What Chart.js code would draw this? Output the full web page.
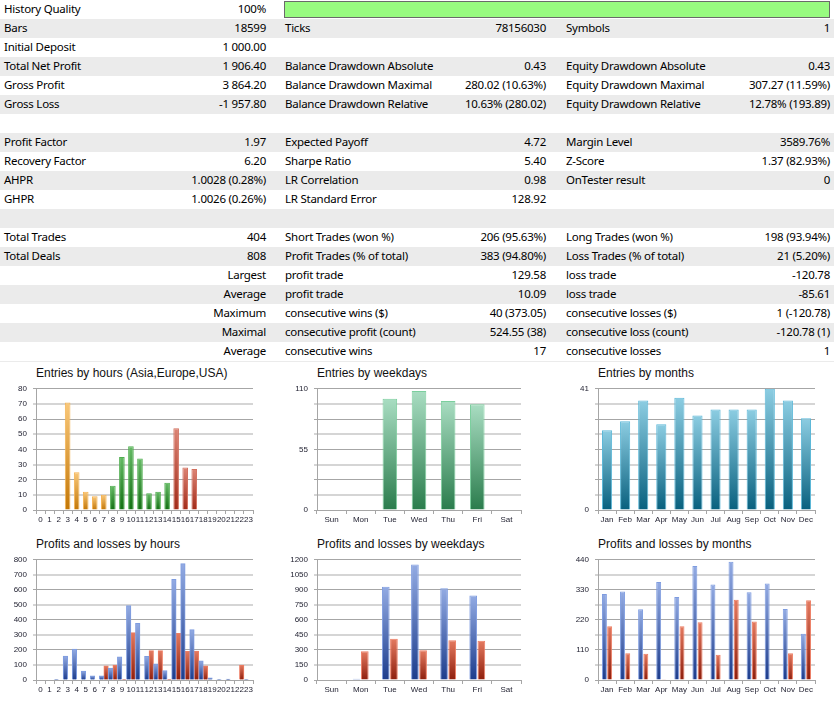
<!DOCTYPE html>
<html>
<head>
<meta charset="utf-8">
<script src="https://cdn.jsdelivr.net/npm/chart.js@4.4.1/dist/chart.umd.min.js"></script>
<style>
  body { margin: 0; background: #fff; width: 834px; height: 704px; overflow: hidden; position: relative; }
  #report { position: absolute; left: 0; top: 0; width: 834px; font: 11.5px "Noto Sans", sans-serif; letter-spacing: -0.25px; color: #000; }
  .row { position: relative; height: 19px; line-height: 18px; }
  .row.alt { background: #ebebeb; }
  .row span { position: absolute; top: 0; white-space: nowrap; }
  .c0 { left: 4px; }
  .c1 { right: 568px; }
  .c2 { left: 285px; }
  .c3 { right: 288px; }
  .c4 { left: 566px; }
  .c5 { right: 4px; }
  .quality { position: absolute; left: 284px; top: 1px; width: 544px; height: 15px; background: #98fb80; border: 1px solid #6a6a6a; }
  .tail { position: absolute; left: 0; top: 361px; width: 834px; height: 1px; background: #ebebeb; }
  .title { position: absolute; font: 12px "Liberation Sans", Arial, sans-serif; color: #111; white-space: nowrap; }
  canvas { position: absolute; }
</style>
</head>
<body>
<div id="report"></div>
<div class="tail"></div>

<div class="title" style="left:36px;top:366px">Entries by hours (Asia,Europe,USA)</div>
<div class="title" style="left:317px;top:366px">Entries by weekdays</div>
<div class="title" style="left:598px;top:366px">Entries by months</div>
<div class="title" style="left:36px;top:537px">Profits and losses by hours</div>
<div class="title" style="left:317px;top:537px">Profits and losses by weekdays</div>
<div class="title" style="left:598px;top:537px">Profits and losses by months</div>

<div style="position:absolute;left:0;top:378px;width:280px;height:156px"><canvas id="hoursEntries"></canvas></div>
<div style="position:absolute;left:280px;top:378px;width:280px;height:156px"><canvas id="daysEntries"></canvas></div>
<div style="position:absolute;left:560px;top:378px;width:274px;height:156px"><canvas id="monthsEntries"></canvas></div>
<div style="position:absolute;left:0;top:549px;width:280px;height:155px"><canvas id="hoursPL"></canvas></div>
<div style="position:absolute;left:280px;top:549px;width:280px;height:155px"><canvas id="daysPL"></canvas></div>
<div style="position:absolute;left:560px;top:549px;width:274px;height:155px"><canvas id="monthsPL"></canvas></div>

<script>
// report rows: label, value, label, value, label, value
var reportRows = [
  ['History Quality', '100%', '', '', '', ''],
  ['Bars', '18599', 'Ticks', '78156030', 'Symbols', '1'],
  ['Initial Deposit', '1 000.00', '', '', '', ''],
  ['Total Net Profit', '1 906.40', 'Balance Drawdown Absolute', '0.43', 'Equity Drawdown Absolute', '0.43'],
  ['Gross Profit', '3 864.20', 'Balance Drawdown Maximal', '280.02 (10.63%)', 'Equity Drawdown Maximal', '307.27 (11.59%)'],
  ['Gross Loss', '-1 957.80', 'Balance Drawdown Relative', '10.63% (280.02)', 'Equity Drawdown Relative', '12.78% (193.89)'],
  ['', '', '', '', '', ''],
  ['Profit Factor', '1.97', 'Expected Payoff', '4.72', 'Margin Level', '3589.76%'],
  ['Recovery Factor', '6.20', 'Sharpe Ratio', '5.40', 'Z-Score', '1.37 (82.93%)'],
  ['AHPR', '1.0028 (0.28%)', 'LR Correlation', '0.98', 'OnTester result', '0'],
  ['GHPR', '1.0026 (0.26%)', 'LR Standard Error', '128.92', '', ''],
  ['', '', '', '', '', ''],
  ['Total Trades', '404', 'Short Trades (won %)', '206 (95.63%)', 'Long Trades (won %)', '198 (93.94%)'],
  ['Total Deals', '808', 'Profit Trades (% of total)', '383 (94.80%)', 'Loss Trades (% of total)', '21 (5.20%)'],
  ['', 'Largest', 'profit trade', '129.58', 'loss trade', '-120.78'],
  ['', 'Average', 'profit trade', '10.09', 'loss trade', '-85.61'],
  ['', 'Maximum', 'consecutive wins ($)', '40 (373.05)', 'consecutive losses ($)', '1 (-120.78)'],
  ['', 'Maximal', 'consecutive profit (count)', '524.55 (38)', 'consecutive loss (count)', '-120.78 (1)'],
  ['', 'Average', 'consecutive wins', '17', 'consecutive losses', '1']
];

var hourLabels = ['0','1','2','3','4','5','6','7','8','9','10','11','12','13','14','15','16','17','18','19','20','21','22','23'];
var dayLabels = ['Sun', 'Mon', 'Tue', 'Wed', 'Thu', 'Fri', 'Sat'];
var monthLabels = ['Jan', 'Feb', 'Mar', 'Apr', 'May', 'Jun', 'Jul', 'Aug', 'Sep', 'Oct', 'Nov', 'Dec'];

var hourEntries = [0, 0, 0, 71, 25, 12, 9, 10, 16, 35, 42, 34, 11, 12, 18, 54, 28, 27, 0, 0, 0, 0, 0, 0];
var hourProfits = [0, 0, 3, 160, 205, 60, 28, 28, 80, 155, 495, 378, 158, 108, 62, 670, 775, 335, 128, 14, 3, 6, 0, 3];
var hourLosses = [0, 0, 0, 0, 0, 0, 0, 95, 100, 3, 315, 0, 195, 195, 3, 310, 190, 192, 95, 0, 0, 0, 100, 0];

var dayEntries = [0, 0, 101, 108, 99, 96, 0];
var dayProfits = [0, 12, 932, 1153, 917, 844, 0];
var dayLosses = [0, 287, 413, 296, 397, 391, 0];

var monthEntries = [27, 30, 37, 29, 38, 32, 34, 34, 34, 41, 37, 31];
var monthProfits = [315, 324, 259, 359, 304, 417, 350, 433, 321, 353, 260, 169];
var monthLosses = [197, 98, 96, 3, 197, 211, 92, 294, 214, 0, 98, 292];

// build the report table
var report = document.getElementById('report');
reportRows.forEach(function (r, i) {
  var row = document.createElement('div');
  row.className = 'row' + (i % 2 ? ' alt' : '');
  r.forEach(function (txt, j) {
    if (!txt) return;
    var s = document.createElement('span');
    s.className = 'c' + j;
    s.textContent = txt;
    row.appendChild(s);
  });
  if (i === 0) {
    var q = document.createElement('div');
    q.className = 'quality';
    row.appendChild(q);
  }
  report.appendChild(row);
});

Chart.defaults.animation = false;
Chart.defaults.font.family = '"Liberation Sans", Arial, sans-serif';
Chart.defaults.font.size = 8;
Chart.defaults.color = '#1e1e2e';

function barGradient(top, bottom) {
  return function (ctx) {
    var chart = ctx.chart;
    if (!chart.chartArea || ctx.type !== 'data') return bottom;
    var y = chart.scales.y;
    var y0 = y.getPixelForValue(0);
    var y1 = y.getPixelForValue(ctx.raw);
    if (y0 - y1 < 1) return bottom;
    var g = chart.ctx.createLinearGradient(0, y1, 0, y0);
    g.addColorStop(0, top);
    g.addColorStop(1, bottom);
    return g;
  };
}

// hours: Asia 0-7, Europe 8-14, USA 15-23
function sessionOf(i) { return i < 8 ? 0 : (i < 15 ? 1 : 2); }
var sessionFill = [barGradient('#f9c87a', '#c27606'), barGradient('#66bb66', '#127012'), barGradient('#dc8474', '#a22a18')];
var sessionLine = ['#f6b453', '#4fae4f', '#d2705f'];

function gridColor(ctx) { return ctx.index % 2 ? '#d5d5d5' : '#a6a6a6'; }
function gridWidth(ctx) { return ctx.index % 2 ? 2 : 1; }

function makeChart(id, labels, datasets, yMax, yStep, labelEvery, yWidth, padRight) {
  return new Chart(document.getElementById(id), {
    type: 'bar',
    data: { labels: labels, datasets: datasets },
    options: {
      responsive: true,
      maintainAspectRatio: false,
      layout: { padding: { top: 5, right: padRight, left: 0, bottom: 0 } },
      plugins: { legend: { display: false }, tooltip: { enabled: false } },
      scales: {
        x: {
          grid: { drawOnChartArea: false, tickLength: 4, color: '#a6a6a6' },
          border: { color: '#a6a6a6' },
          ticks: { autoSkip: false, maxRotation: 0, minRotation: 0, padding: 1 },
          afterFit: function (s) { s.height = 24; }
        },
        y: {
          min: 0, max: yMax,
          grid: { color: gridColor, lineWidth: gridWidth, tickLength: 3 },
          border: { color: '#a6a6a6' },
          ticks: {
            stepSize: yStep, padding: 6,
            callback: function (v, i) { return i % labelEvery === 0 ? v : ''; }
          },
          afterFit: function (s) { s.width = yWidth; }
        }
      }
    }
  });
}

var blueFill = barGradient('#93abe3', '#1c3c8c');
var redFill = barGradient('#e47a60', '#8e1e0c');

makeChart('hoursEntries', hourLabels, [{
  data: hourEntries,
  backgroundColor: function (c) { return sessionFill[sessionOf(c.dataIndex)](c); },
  borderColor: function (c) { return sessionLine[sessionOf(c.dataIndex)]; },
  borderWidth: 1, borderSkipped: 'bottom', barPercentage: 0.62, categoryPercentage: 1
}], 80, 10, 1, 36, 27);

makeChart('daysEntries', dayLabels, [{
  data: dayEntries,
  backgroundColor: barGradient('#a9ddc2', '#2a7c4c'),
  borderColor: '#7ccf9e', borderWidth: 1, borderSkipped: 'bottom',
  barPercentage: 0.5, categoryPercentage: 1
}], 110, 13.75, 4, 37, 39);

makeChart('monthsEntries', monthLabels, [{
  data: monthEntries,
  backgroundColor: barGradient('#8ccde2', '#08607e'),
  borderColor: '#5cb8d8', borderWidth: 1, borderSkipped: 'bottom',
  barPercentage: 0.56, categoryPercentage: 1
}], 41, 5.125, 8, 38, 19);

makeChart('hoursPL', hourLabels, [
  { data: hourProfits, backgroundColor: blueFill, borderColor: '#7e9ce0', borderWidth: 1, borderSkipped: 'bottom', barPercentage: 1, categoryPercentage: 1 },
  { data: hourLosses, backgroundColor: redFill, borderColor: '#ee7e64', borderWidth: 1, borderSkipped: 'bottom', barPercentage: 1, categoryPercentage: 1 }
], 800, 100, 1, 36, 27);

makeChart('daysPL', dayLabels, [
  { data: dayProfits, backgroundColor: blueFill, borderColor: '#7e9ce0', borderWidth: 1, borderSkipped: 'bottom', barPercentage: 0.94, categoryPercentage: 0.56 },
  { data: dayLosses, backgroundColor: redFill, borderColor: '#ee7e64', borderWidth: 1, borderSkipped: 'bottom', barPercentage: 0.94, categoryPercentage: 0.56 }
], 1200, 150, 1, 37, 39);

makeChart('monthsPL', monthLabels, [
  { data: monthProfits, backgroundColor: blueFill, borderColor: '#7e9ce0', borderWidth: 1, borderSkipped: 'bottom', barPercentage: 0.94, categoryPercentage: 0.58 },
  { data: monthLosses, backgroundColor: redFill, borderColor: '#ee7e64', borderWidth: 1, borderSkipped: 'bottom', barPercentage: 0.94, categoryPercentage: 0.58 }
], 440, 55, 2, 38, 19);
</script>
</body>
</html>
